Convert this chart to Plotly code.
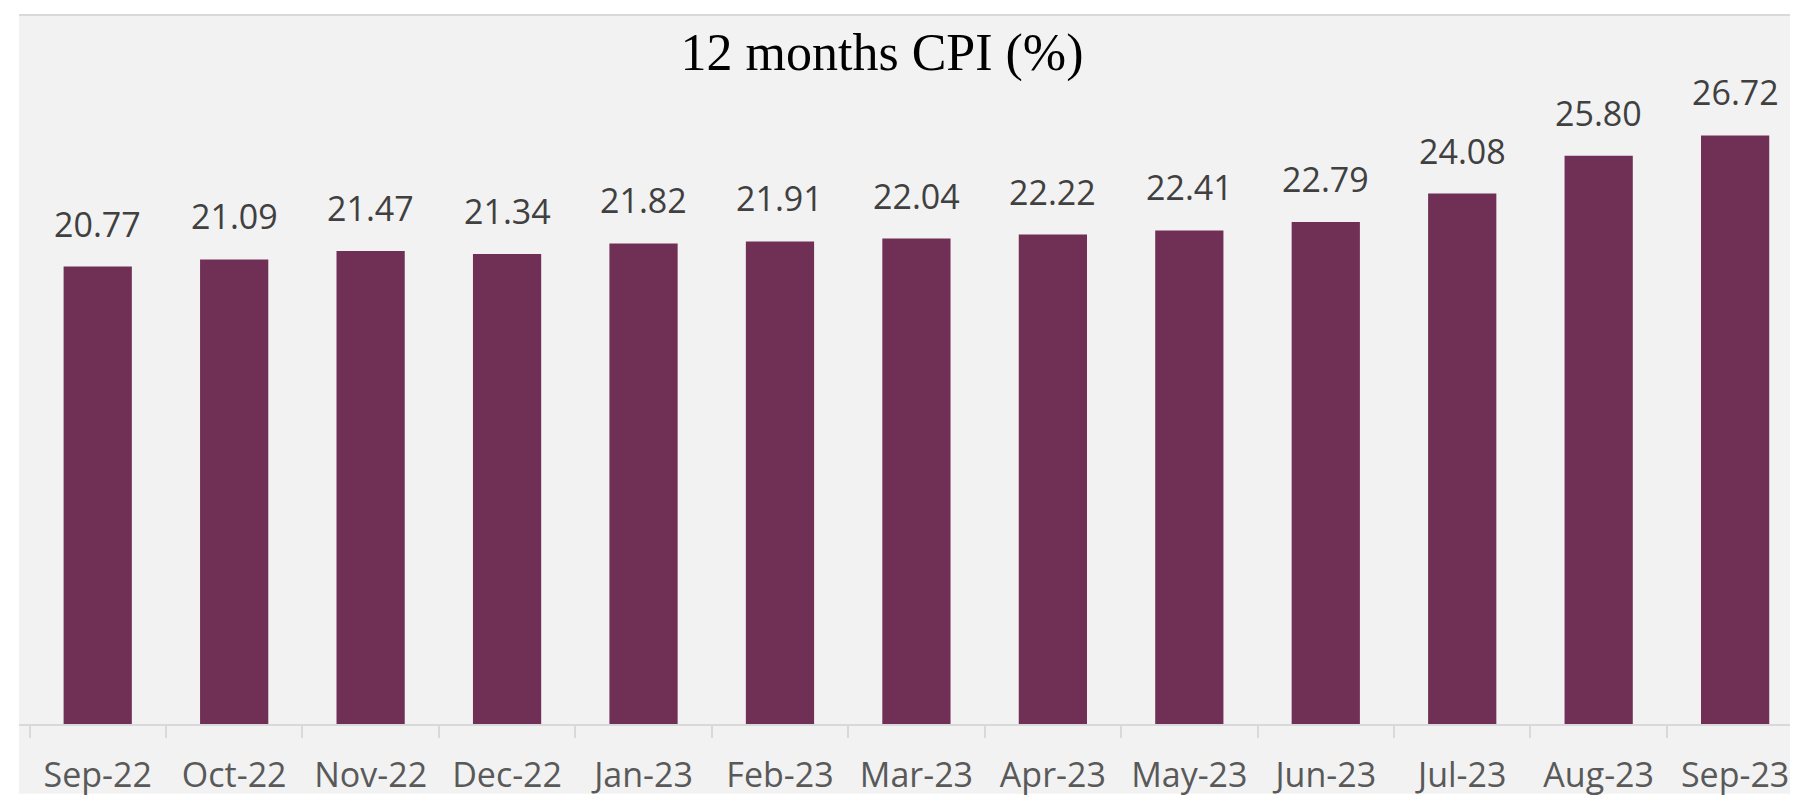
import plotly.graph_objects as go

months = ["Sep-22", "Oct-22", "Nov-22", "Dec-22", "Jan-23", "Feb-23", "Mar-23",
          "Apr-23", "May-23", "Jun-23", "Jul-23", "Aug-23", "Sep-23"]
cpi = [20.77, 21.09, 21.47, 21.34, 21.82, 21.91, 22.04, 22.22, 22.41, 22.79, 24.08, 25.80, 26.72]
title_text = "12 months CPI (%)"

# page has an 8px body margin; figure sized/positioned to compensate
OFF = 8
W, H = 1798 - OFF, 797 - OFF
ML, MR, MT = 19 - OFF, 0, 15 - OFF
plot_bottom = 727 - OFF
MB = H - plot_bottom
slot = 136.45
first_tick = 29.5 - OFF

x0 = -0.5 - (first_tick - ML) / slot
x1 = -0.5 + (W - MR - first_tick) / slot
plot_h = H - MT - MB
y_top = plot_h / 22.12

bar_color = "#702F55"
bg = "#F2F2F2"
grid = "#D9D9D9"

fig = go.Figure()
fig.add_trace(go.Bar(x=months, y=cpi, marker=dict(color=bar_color, line=dict(width=0)),
                     hoverinfo="x+y"))

for m, v in zip(months, cpi):
    fig.add_annotation(x=m, y=v, xref="x", yref="y", text=f"{v:.2f}", showarrow=False,
                       yanchor="bottom", yshift=18,
                       font=dict(family="Open Sans", size=34, color="#404040"))

pw = W - ML - MR
ph = plot_h
fig.add_shape(type="rect", xref="paper", yref="paper", x0=0, x1=1,
              y0=-MB / ph, y1=1, fillcolor=bg, line=dict(width=0), layer="below")
fig.add_shape(type="line", xref="paper", yref="paper", x0=0, x1=1, y0=1, y1=1,
              line=dict(color=grid, width=2), layer="above")

fig.update_layout(
    width=W, height=H,
    margin=dict(l=ML, r=MR, t=MT, b=MB, pad=0),
    paper_bgcolor="white", plot_bgcolor=bg,
    bargap=0.5,
    showlegend=False,
    title=dict(text=title_text, x=(882 - OFF - ML) / pw, xref="paper", xanchor="center",
               y=1 - (52 - OFF) / H, yref="container", yanchor="middle",
               font=dict(family="Liberation Serif", size=52, color="#000000")),
    xaxis=dict(range=[x0, x1], showgrid=False, zeroline=False,
               showline=True, linecolor=grid, linewidth=2,
               ticks="outside", tickson="boundaries", ticklen=12, tickwidth=2, tickcolor=grid,
               tickfont=dict(family="Open Sans", size=34, color="#595959"),
               ticklabelstandoff=20),
    yaxis=dict(range=[0, y_top], visible=False, showgrid=False, zeroline=False),
)

fig.write_html("out.html")
